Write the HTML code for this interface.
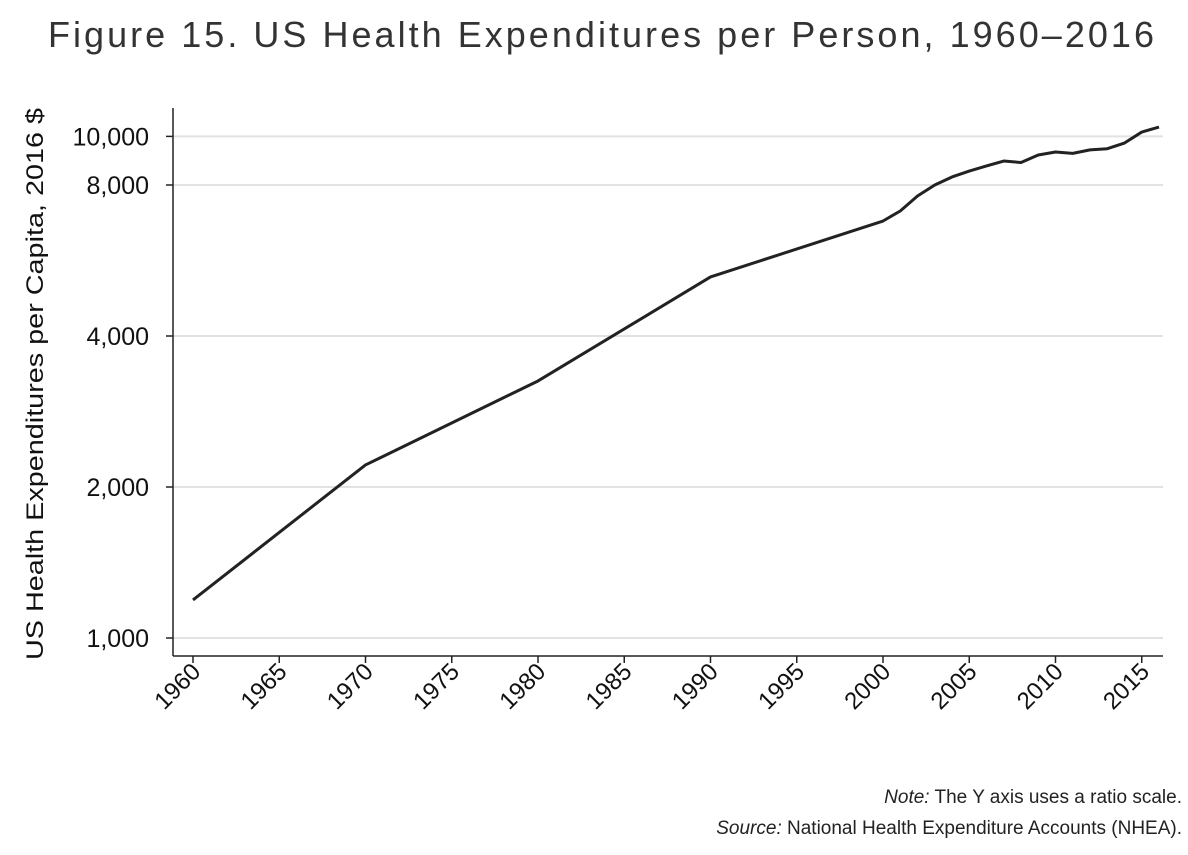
<!DOCTYPE html>
<html><head><meta charset="utf-8"><style>
body{margin:0;background:#fff;width:1188px;height:850px;overflow:hidden;font-family:"Liberation Sans",sans-serif}
</style></head><body>
<svg id="c" width="1188" height="850" font-family="Liberation Sans, sans-serif">
<text x="48" y="47" font-size="36" fill="#333" textLength="1106" lengthAdjust="spacing">Figure 15. US Health Expenditures per Person, 1960–2016</text>
<text transform="translate(43,384) rotate(-90)" text-anchor="middle" font-size="24" fill="#111" textLength="552" lengthAdjust="spacingAndGlyphs">US Health Expenditures per Capita, 2016 $</text>
<text x="1182" y="803" text-anchor="end" font-size="19" fill="#222"><tspan font-style="italic">Note:</tspan> The Y axis uses a ratio scale.</text>
<text x="1182" y="834" text-anchor="end" font-size="19" fill="#222"><tspan font-style="italic">Source:</tspan> National Health Expenditure Accounts (NHEA).</text>
<g id="g"></g>
</svg>
<script>
const years=[1960,1970,1980,1990,2000,2001,2002,2003,2004,2005,2006,2007,2008,2009,2010,2011,2012,2013,2014,2015,2016];
const spend=[1191,2213,3254,5245,6781,7100,7605,8000,8300,8530,8730,8930,8870,9180,9310,9250,9400,9450,9700,10200,10440];
const yTicks=[1000,2000,4000,8000,10000];
const xTicks=[1960,1965,1970,1975,1980,1985,1990,1995,2000,2005,2010,2015];
const NS='http://www.w3.org/2000/svg',g=document.getElementById('g');
const X=v=>193+(v-1960)*17.25;
const Y=v=>638-Math.log2(v/1000)*151;
function mk(t,a){const e=document.createElementNS(NS,t);for(const k in a)e.setAttribute(k,a[k]);g.appendChild(e);return e;}
yTicks.forEach(v=>{
 const l=mk('line',{x1:173,x2:1163,y1:Y(v),y2:Y(v),stroke:'#e2e2e2','stroke-width':2});
 
 
 const tk=mk('line',{x1:166,x2:173,y1:Y(v),y2:Y(v),stroke:'#222','stroke-width':1.5});
 
 
 const t=mk('text',{x:149,y:Y(v)+9,'text-anchor':'end','font-size':25,fill:'#111'});
 t.textContent=v.toLocaleString('en-US');
 
 
});
xTicks.forEach(v=>{
 const tk=mk('line',{x1:X(v),x2:X(v),y1:656,y2:663,stroke:'#222','stroke-width':1.5});
 
 
 const t=mk('text',{x:X(v)+9,y:673,'text-anchor':'end','font-size':24,fill:'#111',transform:`rotate(-45 ${X(v)+9} 673)`});
 t.textContent=v;
 
 
});
const ya=mk('line',{x1:173,x2:173,y1:108,y2:656,stroke:'#222','stroke-width':1.5});


const xa=mk('line',{x1:173,x2:1163,y1:656,y2:656,stroke:'#222','stroke-width':1.5});


const p=mk('polyline',{points:years.map((y,i)=>X(y)+','+Y(spend[i])).join(' '),fill:'none',stroke:'#222','stroke-width':3,'stroke-linejoin':'round'});


</script>
</body></html>
